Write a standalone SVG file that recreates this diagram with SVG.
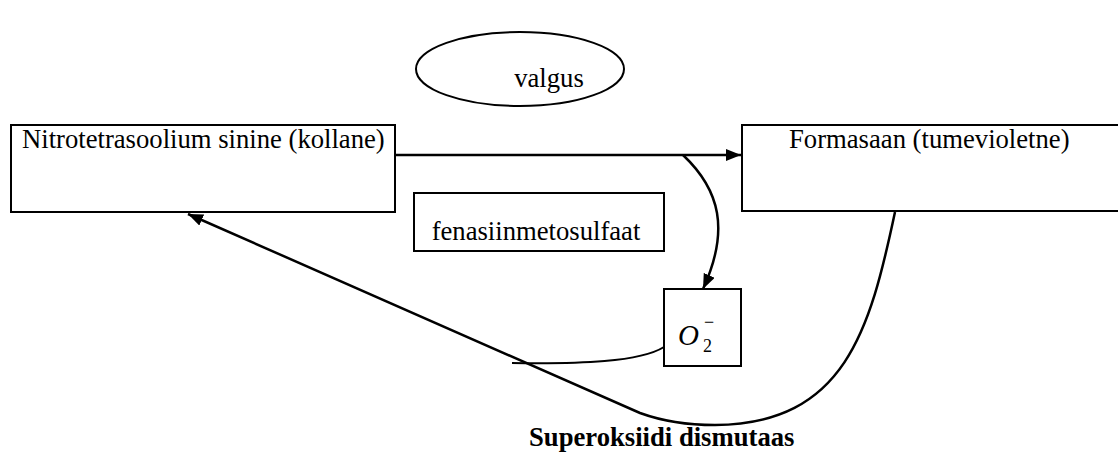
<svg xmlns="http://www.w3.org/2000/svg" width="1118" height="452" viewBox="0 0 1118 452">
<style>
.box{fill:#fff;stroke:#000;stroke-width:2}
.t{font-family:'Liberation Serif','Times New Roman',Times,'DejaVu Serif',serif;font-size:26.67px;fill:#000}
.b{font-weight:bold}
.c{fill:none;stroke:#000;stroke-width:2.5}
.c2{fill:none;stroke:#000;stroke-width:2}
</style>
<defs>
<marker id="ah" markerWidth="16" markerHeight="12" refX="15" refY="6" orient="auto" markerUnits="userSpaceOnUse">
<path d="M0,0 L15,6 L0,12 Z" fill="#000"/>
</marker>
</defs>
<rect width="1118" height="452" fill="#fff"/>
<g id="valgus">
<ellipse cx="520" cy="69" rx="104" ry="37" class="box"/>
<text class="t" x="549" y="87" text-anchor="middle">valgus</text>
</g>
<g id="nbt">
<rect x="11" y="125" width="384" height="87" class="box"/>
<text class="t" x="22" y="148">Nitrotetrasoolium sinine (kollane)</text>
</g>
<g id="formasaan">
<rect x="742" y="125" width="380" height="86" class="box"/>
<text class="t" x="789" y="148">Formasaan (tumevioletne)</text>
</g>
<g id="pms">
<rect x="414" y="193" width="250" height="58" class="box"/>
<text class="t" x="536" y="240" text-anchor="middle">fenasiinmetosulfaat</text>
</g>
<g id="o2">
<rect x="664" y="289" width="77" height="77" class="box"/>
<text class="t" x="678" y="345" style="font-style:italic;font-size:29px">O</text>
<text class="t" x="703" y="352" style="font-size:18px">2</text>
<text class="t" x="704" y="328" style="font-size:18px">−</text>
</g>
<g id="sod">
<text class="t b" x="529" y="446">Superoksiidi dismutaas</text>
</g>
<g id="connectors">
<path class="c" d="M395 155 L741 155" marker-end="url(#ah)"/>
<path class="c" d="M683 155 C720 190 730 230 703 289" marker-end="url(#ah)"/>
<path class="c2" d="M512 363 C580 364 640 362 664 347"/>
<path class="c" d="M895 212 C870 330 845 424 715 425 C685 425 662 421 640 413 L188 214" marker-end="url(#ah)"/>
</g>
</svg>
